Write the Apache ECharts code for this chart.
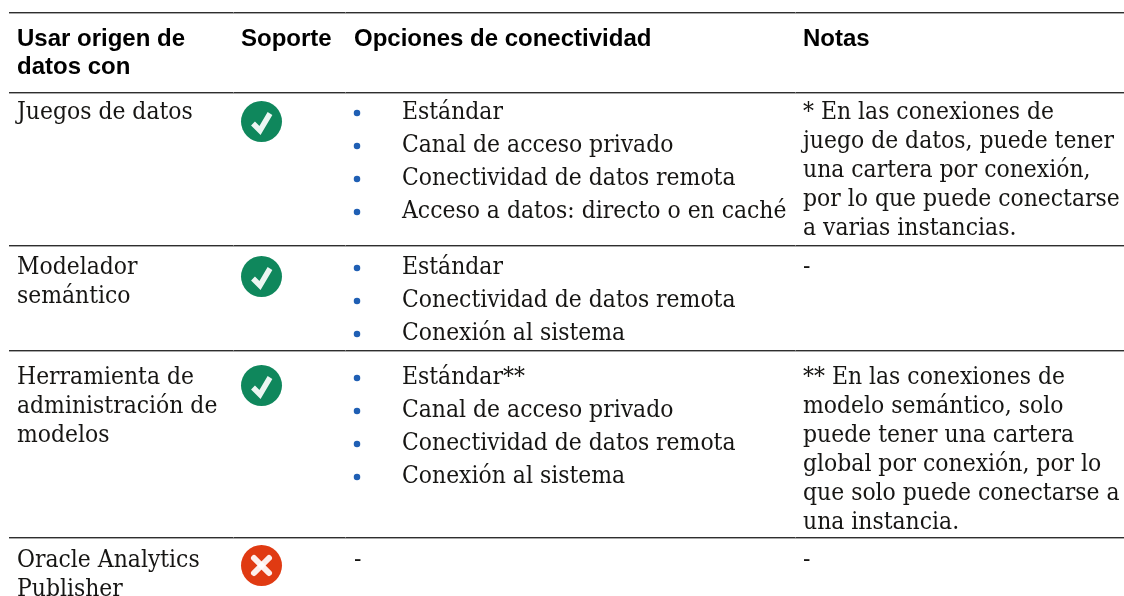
<!DOCTYPE html>
<html><head><meta charset="utf-8">
<style>html,body{margin:0;padding:0;background:#fff}#c{width:1124px;height:596px}</style>
<script src="https://cdn.jsdelivr.net/npm/echarts@6/dist/echarts.min.js"></script></head>
<body><div id="c"></div>
<script>
// content
const headers = [["Usar origen de","datos con"],["Soporte"],["Opciones de conectividad"],["Notas"]];
const sources = [["Juegos de datos"],["Modelador","semántico"],["Herramienta de","administración de","modelos"],["Oracle Analytics","Publisher"]];
const support = ["ok","ok","ok","no"];
const options = [
 ["Estándar","Canal de acceso privado","Conectividad de datos remota","Acceso a datos: directo o en caché"],
 ["Estándar","Conectividad de datos remota","Conexión al sistema"],
 ["Estándar**","Canal de acceso privado","Conectividad de datos remota","Conexión al sistema"],
 ["-"]];
const notes = [
 ["* En las conexiones de","juego de datos, puede tener","una cartera por conexión,","por lo que puede conectarse","a varias instancias."],
 ["-"],
 ["** En las conexiones de","modelo semántico, solo","puede tener una cartera","global por conexión, por lo","que solo puede conectarse a","una instancia."],
 ["-"]];
// layout (axis units = pixels)
const colX = [17,241,354,803], bulletX = 357, optX = 402;
const ruleY = [12,92,245,350,537], seams = [233,345,795], ruleSpan = [9,1124];
const rowY = [113,268,378,561], iconY = [121.5,276.5,385.5,565.5], iconX = 261.5, iconR = 20.5;
const headY = 39, headStep = 28, noteStep = 29, optStep = 33;
const SERIF = '"DejaVu Serif Condensed","DejaVu Serif",serif', SANS = '"Liberation Sans",Arial,sans-serif';

const textItems = [], bullets = [], rules = [], icons = [];
const push = (x,y,t,k)=>textItems.push([x,y,t,k]);
headers.forEach((h,c)=>h.forEach((t,i)=>push(colX[c],headY+i*headStep,t,'h')));
sources.forEach((r,n)=>r.forEach((t,i)=>push(colX[0],rowY[n]+i*noteStep,t,'b')));
options.forEach((r,n)=>{ if(r.length===1&&r[0]==='-'){push(colX[2],rowY[n],'-','b');return;}
  r.forEach((t,i)=>{push(optX,rowY[n]+i*optStep,t,'b');bullets.push([bulletX,rowY[n]+i*optStep]);});});
notes.forEach((r,n)=>r.forEach((t,i)=>push(colX[3],rowY[n]+i*noteStep,t,'b')));
ruleY.forEach(y=>rules.push([ruleSpan[0],y,ruleSpan[1]]));
support.forEach((s,n)=>icons.push([iconX,iconY[n],s]));

const chart = echarts.init(document.getElementById('c'),null,{renderer:'canvas'});
chart.setOption({
 animation:false,
 grid:{left:0,right:0,top:0,bottom:0},
 xAxis:{type:'value',min:0,max:1124,show:false},
 yAxis:{type:'value',min:0,max:596,inverse:true,show:false},
 series:[
 {type:'custom',coordinateSystem:'cartesian2d',silent:true,data:rules,
  encode:{x:0,y:1},
  renderItem:(p,api)=>{const a=api.coord([api.value(0),api.value(1)]),b=api.coord([api.value(2),api.value(1)]);
   return {type:'group',children:[
    {type:'rect',shape:{x:a[0],y:a[1],width:b[0]-a[0],height:1},style:{fill:'#2e2e2e'}},
    {type:'rect',shape:{x:a[0],y:a[1]+1,width:b[0]-a[0],height:1},style:{fill:'#a8a8a8'}},
    ...seams.map(s=>({type:'rect',shape:{x:s,y:a[1],width:1,height:1},style:{fill:'#777'}}))]};}},
 {type:'scatter',symbol:'circle',symbolSize:6.5,silent:true,itemStyle:{color:'#1f5fb4',opacity:1},data:bullets},
 {type:'custom',coordinateSystem:'cartesian2d',silent:true,data:textItems,encode:{x:0,y:1},
  renderItem:(p,api)=>{const i=p.dataIndex,d=textItems[i],c=api.coord([d[0],d[1]]),h=d[3]==='h';
   return {type:'text',x:c[0],y:c[1],style:{text:d[2],fill:h?'#000':'#161513',align:'left',verticalAlign:'middle',
     font:h?('bold 24px '+SANS):('24.4px '+SERIF)}};}},
 {type:'custom',coordinateSystem:'cartesian2d',silent:true,data:icons,encode:{x:0,y:1},
  renderItem:(p,api)=>{const d=icons[p.dataIndex],c=api.coord([d[0],d[1]]),ok=d[2]==='ok',x=c[0],y=c[1];
   const mk=ok?[{type:'polyline',shape:{points:[[x-8.5,y+2],[x-1.5,y+9],[x+8.5,y-8]]},style:{fill:'none',stroke:'#fff',lineWidth:5.5,opacity:.92}}]
     :[{type:'line',shape:{x1:x-7.5,y1:y-7.5,x2:x+7.5,y2:y+7.5},style:{stroke:'#fff',lineWidth:6,lineCap:'round',opacity:.92}},
       {type:'line',shape:{x1:x-7.5,y1:y+7.5,x2:x+7.5,y2:y-7.5},style:{stroke:'#fff',lineWidth:6,lineCap:'round',opacity:.92}}];
   return {type:'group',children:[{type:'circle',shape:{cx:x,cy:y,r:iconR},style:{fill:ok?'#0f875c':'#e03a12'}},...mk]};}}
 ]});
</script></body></html>
